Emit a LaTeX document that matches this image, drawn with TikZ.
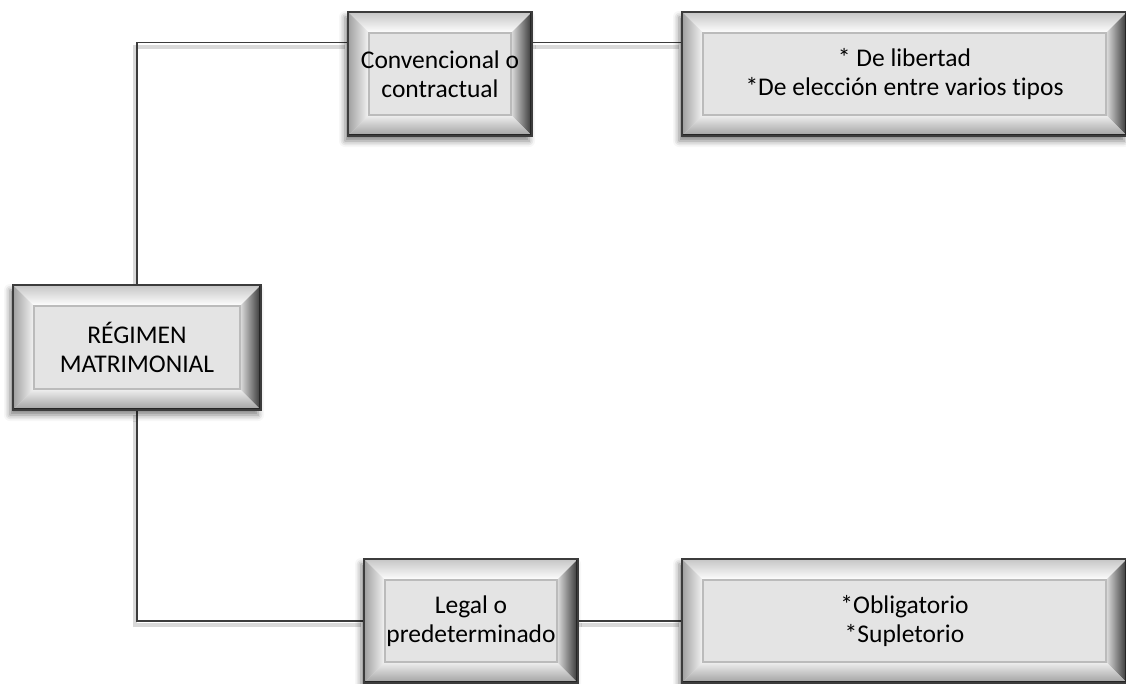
\documentclass[tikz,border=0pt]{standalone}
\usepackage{fontspec}
\setmainfont{Carlito}[Ligatures={NoCommon}]
\usetikzlibrary{shadows.blur,calc}
\pgfdeclarelayer{bg}
\pgfsetlayers{bg,main}
\definecolor{linec}{HTML}{3C3C3C}
\definecolor{panel}{HTML}{E4E4E4}
\definecolor{panelrim}{HTML}{BBBBBB}
\tikzset{
  bevelbox/.style={rectangle, inner sep=0pt, align=center, fill=panel, draw=linec, line width=1.2pt,
    font=\fontsize{25.5}{29.5}\selectfont,
    blur shadow={shadow xshift=-3pt, shadow yshift=-5pt, shadow blur radius=6pt, shadow opacity=50},
    path picture={
      \coordinate (pA) at (path picture bounding box.north west);
      \coordinate (pB) at (path picture bounding box.north east);
      \coordinate (pC) at (path picture bounding box.south east);
      \coordinate (pD) at (path picture bounding box.south west);
      \coordinate (qA) at ([shift={(21,21)}]pA);
      \coordinate (qB) at ([shift={(-21,21)}]pB);
      \coordinate (qC) at ([shift={(-21,-21)}]pC);
      \coordinate (qD) at ([shift={(21,-21)}]pD);
      \shade[top color=gray!45, bottom color=white] (pA) -- (pB) -- (qB) -- (qA) -- cycle;
      \shade[left color=gray!75, right color=gray!8] (pA) -- (qA) -- (qD) -- (pD) -- cycle;
      \shade[right color=black!80, left color=gray!25] (pB) -- (qB) -- (qC) -- (pC) -- cycle;
      \shade[bottom color=gray!75, top color=gray!12] (pD) -- (qD) -- (qC) -- (pC) -- cycle;
      \draw[panelrim, line width=1.2pt, fill=panel] (qA) rectangle (qC);
      \draw[black!85, line width=4pt] (pB) -- (pC) -- (pD);
    }},
  conn/.style={draw=linec, line width=1.5pt},
  connshadow/.style={draw=black!15, line width=4pt, transform canvas={shift={(-2pt,-4pt)}}},
}
\begin{document}
\begin{tikzpicture}[x=1pt, y=-1pt]
\useasboundingbox (0,0) rectangle (1126,683);
\node[bevelbox, minimum width=248pt, minimum height=125pt] (r) at (137,347.5) {RÉGIMEN\\MATRIMONIAL};
\node[bevelbox, minimum width=184pt, minimum height=124pt] (c) at (440,74) {Convencional o\\contractual};
\node[bevelbox, minimum width=445pt, minimum height=124pt] (d) at (904.5,74) {* De libertad\\*De elección entre varios tipos};
\node[bevelbox, minimum width=214pt, minimum height=124pt] (l) at (471,621) {Legal o\\predeterminado};
\node[bevelbox, minimum width=445pt, minimum height=124pt] (o) at (904.5,621) {*Obligatorio\\*Supletorio};
\begin{pgfonlayer}{bg}
\draw[connshadow] (r.north) |- ($(c.north west)!0.25!(c.south west)$);
\draw[connshadow] ($(c.north east)!0.25!(c.south east)$) -- ($(d.north west)!0.25!(d.south west)$);
\draw[connshadow] (r.south) |- (l.west);
\draw[connshadow] (l.east) -- (o.west);
\draw[conn] (r.north) |- ($(c.north west)!0.25!(c.south west)$);
\draw[conn] ($(c.north east)!0.25!(c.south east)$) -- ($(d.north west)!0.25!(d.south west)$);
\draw[conn] (r.south) |- (l.west);
\draw[conn] (l.east) -- (o.west);
\end{pgfonlayer}
\end{tikzpicture}
\end{document}
